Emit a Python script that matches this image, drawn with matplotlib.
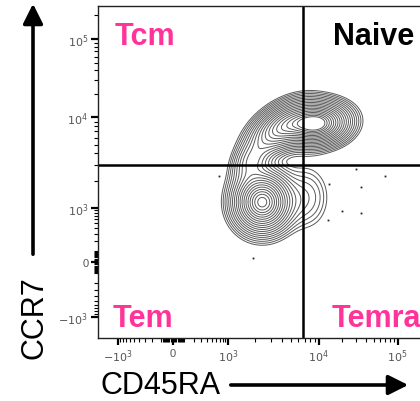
import numpy as np
import matplotlib
matplotlib.use("Agg")
import matplotlib.pyplot as plt
from matplotlib.patches import FancyArrowPatch

plt.rcParams['font.family'] = ['Liberation Sans', 'DejaVu Sans']
plt.rcParams['mathtext.fontset'] = 'dejavusans'

# populations (CD45RA, CCR7 in channel values)
pop_names = ['Naive', 'Tcm', 'Tcm tail', 'Tem', 'Tem tail']
pop_cd45ra = [9500, 3800, 1800, 2400, 7500]
pop_ccr7 = [8500, 7600, 3300, 1150, 1300]
pop_weight = [1.05, 0.6, 0.22, 1.0, 0.1]
pop_sx = [18, 18, 11, 16, 14]     # spread, display units
pop_sy = [12, 15, 12, 17, 20]
pop_rho = [0.1, 0.5, 0.3, 0.0, 0.0]

# outlier events
dot_cd45ra = [680, 29900, 68800, 13700, 34500, 19950, 34500, 12950, 1900]
dot_ccr7 = [2240, 2670, 2240, 1830, 1700, 877, 803, 587, 34]

# gates
gate_cd45ra = 6700
gate_ccr7 = 3000

major_ticks = [-1e3, 0, 1e3, 1e4, 1e5]
major_labels = [r'$-10^{3}$', '0', r'$10^{3}$', r'$10^{4}$', r'$10^{5}$']

# biexponential-like display scale
KNOT_T = np.arcsinh(np.array([-1e5, -1e3, 0, 1e3, 1e4, 1e5, 1e6]) / 200)
KNOT_P = np.array([-200, -55, 0, 55, 146, 225, 305], dtype=float)

def fwd(v):
    return np.interp(np.arcsinh(np.asarray(v, dtype=float) / 200), KNOT_T, KNOT_P)

def inv(p):
    return 200 * np.sinh(np.interp(np.asarray(p, dtype=float), KNOT_P, KNOT_T))

fig = plt.figure(figsize=(4.2, 4.02), dpi=100)
ax = fig.add_axes([98/420, 1 - 339/402, 333/420, 332/402])
ax.set_xscale('function', functions=(fwd, inv))
ax.set_yscale('function', functions=(fwd, inv))
ax.set_xlim(-1900, 262144)
ax.set_ylim(-2000, 262144)

# density on display grid
u = np.linspace(fwd(-1900), fwd(262144), 450)
w = np.linspace(fwd(-2000), fwd(262144), 450)
U, W = np.meshgrid(u, w)
dens = np.zeros_like(U)
for cx, cy, a, sx, sy, r in zip(pop_cd45ra, pop_ccr7, pop_weight, pop_sx, pop_sy, pop_rho):
    dx = (U - fwd(cx)) / sx
    dy = (W - fwd(cy)) / sy
    q = (dx**2 - 2*r*dx*dy + dy**2) / (1 - r**2)
    dens += a * np.exp(-0.5 * q)

radii = np.linspace(0.55, 2.6, 19)
levels = np.sort(dens.max() * np.exp(-0.5 * radii**2))
ax.contour(inv(U), inv(W), dens, levels=levels, colors='#5a5a5a', linewidths=0.7)

ax.plot(dot_cd45ra, dot_ccr7, 's', ms=1.3, color='#222222', mew=0)

ax.axvline(gate_cd45ra, color='black', lw=1.8)
ax.axhline(gate_ccr7, color='black', lw=1.8)

minor = []
for d in [1e1, 1e2]:
    for k in range(1, 10):
        if d * k < 1e3:
            minor += [k * d, -k * d]
for d in [1e3, 1e4]:
    minor += [k * d for k in range(2, 10)]
minor += [2e5]

for axis in (ax.xaxis, ax.yaxis):
    axis.set_ticks(major_ticks)
    axis.set_ticklabels(major_labels)
    axis.set_ticks(minor, minor=True)
    axis.set_minor_formatter(matplotlib.ticker.NullFormatter())
ax.tick_params(which='major', direction='out', length=5, width=1.6, color='black',
               labelsize=8, labelcolor='#555555', pad=2)
ax.tick_params(which='minor', direction='out', length=3, width=0.8, color='black')
for sp in ax.spines.values():
    sp.set_linewidth(1)
    sp.set_color('#222222')

pink = '#ff3399'
fig.text(115/420, 1 - 45/402, 'Tcm', color=pink, fontsize=22, fontweight='bold')
fig.text(333/420, 1 - 45/402, 'Naive', color='black', fontsize=22, fontweight='bold')
fig.text(113/420, 1 - 327/402, 'Tem', color=pink, fontsize=22, fontweight='bold')
fig.text(332/420, 1 - 327/402, 'Temra', color=pink, fontsize=22, fontweight='bold')

fig.text(100/420, 1 - 386/402, 'CD45RA', fontsize=22, va='center', ha='left')
fig.text(34/420, 1 - 318/402, 'CCR7', fontsize=22, va='center', ha='center', rotation=90)

style = '-|>,head_length=0.6,head_width=0.3'
fig.patches.append(FancyArrowPatch((228/420, 1 - 386/402), (411/420, 1 - 386/402),
                                   transform=fig.transFigure, arrowstyle=style,
                                   mutation_scale=20, lw=2.6, color='black'))
fig.patches.append(FancyArrowPatch((33/420, 1 - 258/402), (33/420, 1 - 2/402),
                                   transform=fig.transFigure, arrowstyle=style,
                                   mutation_scale=20, lw=2.6, color='black'))

fig.savefig('out.png', dpi=100)
